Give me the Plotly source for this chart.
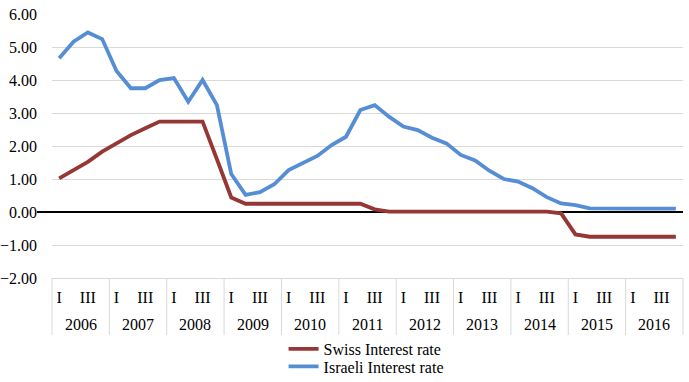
import plotly.graph_objects as go

years = ["2006", "2007", "2008", "2009", "2010", "2011",
         "2012", "2013", "2014", "2015", "2016"]
quarter_labels = ["I", "", "III", ""]

swiss = [1.02, 1.27, 1.52, 1.83,
         2.08, 2.33, 2.54, 2.74,
         2.74, 2.74, 2.74, 1.60,
         0.44, 0.25, 0.25, 0.25,
         0.25, 0.25, 0.25, 0.25,
         0.25, 0.25, 0.08, 0.01,
         0.01, 0.01, 0.01, 0.01,
         0.01, 0.01, 0.01, 0.01,
         0.01, 0.01, 0.01, -0.04,
         -0.68, -0.75, -0.75, -0.75,
         -0.75, -0.75, -0.75, -0.75]

israel = [4.66, 5.16, 5.44, 5.24,
          4.27, 3.75, 3.75, 4.00,
          4.06, 3.34, 4.00, 3.24,
          1.15, 0.52, 0.60, 0.84,
          1.27, 1.50, 1.70, 2.03,
          2.28, 3.09, 3.24, 2.89,
          2.59, 2.48, 2.25, 2.08,
          1.73, 1.56, 1.25, 1.00,
          0.92, 0.72, 0.45, 0.26,
          0.21, 0.11, 0.10, 0.10,
          0.10, 0.10, 0.10, 0.10]

y_ticks = [-2, -1, 0, 1, 2, 3, 4, 5, 6]

n_q = len(swiss)
x = [i + 0.5 for i in range(n_q)]

FONT = "Liberation Serif"
FS = 16
GRID = "#d9d9d9"

fig = go.Figure()
fig.add_trace(go.Scatter(x=x, y=swiss, mode="lines", name="Swiss Interest rate",
                         legend="legend",
                         line=dict(color="#953735", width=3.8)))
fig.add_trace(go.Scatter(x=x, y=israel, mode="lines", name="Israeli Interest rate",
                         legend="legend2",
                         line=dict(color="#558ED5", width=3.8)))

tickvals, ticktext = [], []
for i in range(n_q):
    lab = quarter_labels[i % 4]
    if lab:
        tickvals.append(i + 0.5)
        ticktext.append(lab)

nyears = len(years)
shapes = []
for k in range(nyears + 1):
    shapes.append(dict(type="line", xref="paper", yref="paper",
                       x0=k / nyears, x1=k / nyears, y0=0, y1=-0.216,
                       line=dict(color=GRID, width=1)))
# zero line extension into the label gutter
shapes.append(dict(type="line", xref="paper", yref="y",
                   x0=-15 / 631, x1=0, y0=0, y1=0,
                   line=dict(color="black", width=2)))

annotations = []
for k, yr in enumerate(years):
    annotations.append(dict(x=(k + 0.5) / nyears, y=-0.178, xref="paper", yref="paper",
                            text=yr, showarrow=False, xanchor="center", yanchor="middle",
                            font=dict(family=FONT, size=FS, color="black")))

leg_common = dict(xanchor="left", yanchor="top", orientation="v",
                  font=dict(family=FONT, size=FS, color="black"),
                  bgcolor="rgba(0,0,0,0)")

fig.update_layout(
    width=689, height=382,
    margin=dict(l=52, r=6, t=14, b=104, autoexpand=False),
    paper_bgcolor="white", plot_bgcolor="white",
    font=dict(family=FONT, size=FS, color="black"),
    showlegend=True,
    legend=dict(x=0.367, y=-0.2045, **leg_common),
    legend2=dict(x=0.367, y=-0.271, **leg_common),
    xaxis=dict(range=[0, n_q], tickvals=tickvals, ticktext=ticktext,
               showgrid=False, zeroline=False, showline=True, linecolor=GRID,
               linewidth=1, ticks="", ticklabelstandoff=5,
               tickfont=dict(family=FONT, size=FS)),
    yaxis=dict(range=[-2, 6], tickvals=y_ticks, tickformat=".2f",
               showgrid=True, gridcolor=GRID, gridwidth=1,
               zeroline=True, zerolinecolor="black", zerolinewidth=2,
               showline=False, ticks="", ticklabelstandoff=14,
               ticklabeloverflow="allow",
               tickfont=dict(family=FONT, size=FS)),
    shapes=shapes, annotations=annotations,
)

fig.write_html("out.html",
               config={"displayModeBar": False},
               post_script="document.body.style.margin='0px';"
                           "document.body.style.overflow='hidden';")
